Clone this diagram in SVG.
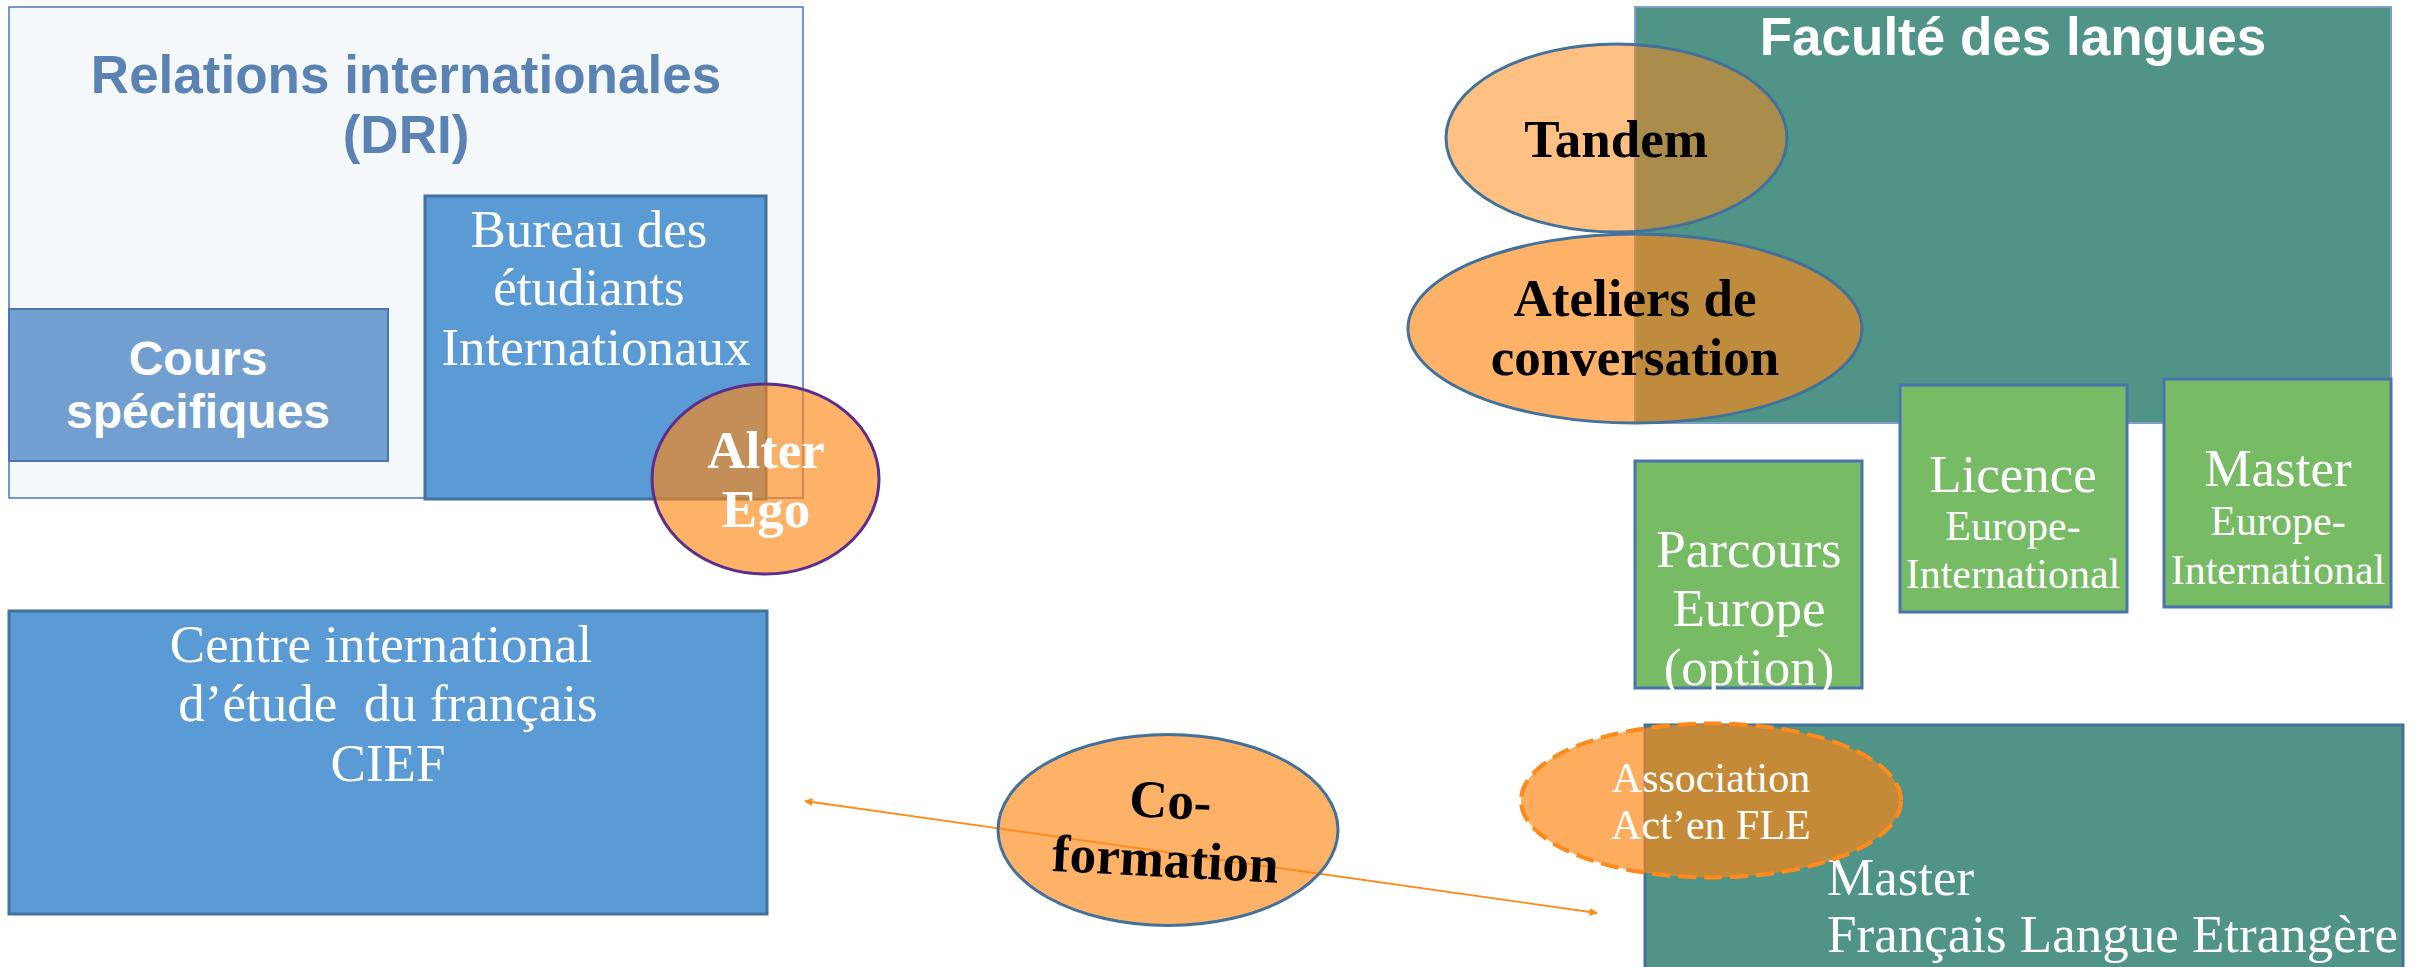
<svg xmlns="http://www.w3.org/2000/svg" width="2431" height="967" viewBox="0 0 2431 967">
<style>
.sansb{font-family:"Liberation Sans",Arial,sans-serif;font-weight:bold;font-size:53px;text-anchor:middle}
.ser{font-family:"Liberation Serif","Times New Roman",serif;font-size:53px;fill:#ffffff;text-anchor:middle}
.serb{font-family:"Liberation Serif","Times New Roman",serif;font-weight:bold;font-size:53px;text-anchor:middle}
.sm{font-size:42px}
.blue{fill:#5b9bd5;stroke:#41719c;stroke-width:3}
.green{fill:#78bb65;stroke:#4a72b0;stroke-width:3}
.teal{fill:#509488}
.orng{fill:#fd8611;fill-opacity:0.64;stroke:#41719c;stroke-width:3}
</style>
<defs>
<marker id="ah" viewBox="0 0 10 10" refX="9" refY="5" markerWidth="9" markerHeight="8" markerUnits="userSpaceOnUse" orient="auto-start-reverse">
<path d="M0,0 L10,5 L0,10 z" fill="#ff8a1a"/>
</marker>
</defs>
<rect width="2431" height="967" fill="#ffffff"/>

<g id="dri">
<rect x="9" y="7" width="794" height="491" fill="#f4f8fb" stroke="#4a76c0" stroke-width="1.5"/>
<text class="sansb" x="406" y="93" fill="#5a82b3">Relations internationales</text>
<text class="sansb" x="406" y="153" fill="#5a82b3">(DRI)</text>
</g>

<g id="cours">
<rect x="9" y="309" width="379" height="152" fill="#729fcf" stroke="#4a76b0" stroke-width="2"/>
<text class="sansb" x="198" y="375" fill="#ffffff" style="font-size:48px">Cours</text>
<text class="sansb" x="198" y="428" fill="#ffffff" style="font-size:48px">spécifiques</text>
</g>

<g id="bureau">
<rect class="blue" x="425" y="196" width="341" height="303"/>
<text class="ser" x="589" y="247">Bureau des</text>
<text class="ser" x="589" y="305">étudiants</text>
<text class="ser" x="596" y="365">Internationaux</text>
</g>

<g id="cief">
<rect class="blue" x="9" y="611" width="758" height="303"/>
<text class="ser" x="381" y="662">Centre international</text>
<text class="ser" x="388" y="721" xml:space="preserve">d’étude  du français</text>
<text class="ser" x="388" y="781">CIEF</text>
</g>

<g id="faculte">
<rect class="teal" x="1635" y="7" width="756" height="416" stroke="#7f9fc8" stroke-width="2"/>
<text class="sansb" x="2013" y="55" fill="#ffffff">Faculté des langues</text>
</g>

<g id="parcours">
<rect class="green" x="1635" y="461" width="227" height="227"/>
<text class="ser" x="1749" y="567">Parcours</text>
<text class="ser" x="1749" y="626">Europe</text>
<text class="ser" x="1749" y="685">(option)</text>
</g>

<g id="licence">
<rect class="green" x="1900" y="385" width="227" height="227"/>
<text class="ser" x="2013" y="492">Licence</text>
<text class="ser sm" x="2013" y="540">Europe-</text>
<text class="ser sm" x="2013" y="588">International</text>
</g>

<g id="master-ei">
<rect class="green" x="2164" y="379" width="227" height="228"/>
<text class="ser" x="2278" y="486">Master</text>
<text class="ser sm" x="2278" y="535">Europe-</text>
<text class="ser sm" x="2278" y="584">International</text>
</g>

<g id="master-fle">
<rect class="teal" x="1645" y="725" width="758" height="260" stroke="#41719c" stroke-width="3"/>
<text class="ser" x="1827" y="895" style="text-anchor:start">Master</text>
<text class="ser" x="1827" y="952" style="text-anchor:start">Français Langue Etrangère</text>
</g>

<g id="connectors">
<line x1="805" y1="801" x2="1597" y2="913" stroke="#ff8a1a" stroke-width="1.8" marker-start="url(#ah)" marker-end="url(#ah)"/>
</g>

<g id="alter-ego">
<ellipse class="orng" cx="765.5" cy="479" rx="113.5" ry="95" style="stroke:#5b2d8e"/>
<text class="serb" x="766" y="468" fill="#ffffff">Alter</text>
<text class="serb" x="766" y="527" fill="#ffffff">Ego</text>
</g>

<g id="tandem">
<ellipse class="orng" cx="1616.5" cy="138" rx="170.5" ry="94" style="fill-opacity:0.52"/>
<text class="serb" x="1616" y="157" fill="#000000">Tandem</text>
</g>

<g id="ateliers">
<ellipse class="orng" cx="1635" cy="328.5" rx="227" ry="94.5"/>
<text class="serb" x="1635" y="316" fill="#000000">Ateliers de</text>
<text class="serb" x="1635" y="375" fill="#000000">conversation</text>
</g>

<g id="coformation">
<ellipse class="orng" cx="1168" cy="830" rx="170" ry="95.5"/>
<g transform="rotate(3 1168 848)">
<text class="serb" x="1168" y="818" fill="#000000">Co-</text>
<text class="serb" x="1166" y="877" fill="#000000">formation</text>
</g>
</g>

<g id="association">
<ellipse cx="1711" cy="800.5" rx="190" ry="77" fill="#fd8611" fill-opacity="0.68" stroke="#ff8a1a" stroke-width="4" stroke-dasharray="18 8"/>
<text class="ser sm" x="1711" y="792">Association</text>
<text class="ser sm" x="1711" y="839">Act’en FLE</text>
</g>
</svg>
